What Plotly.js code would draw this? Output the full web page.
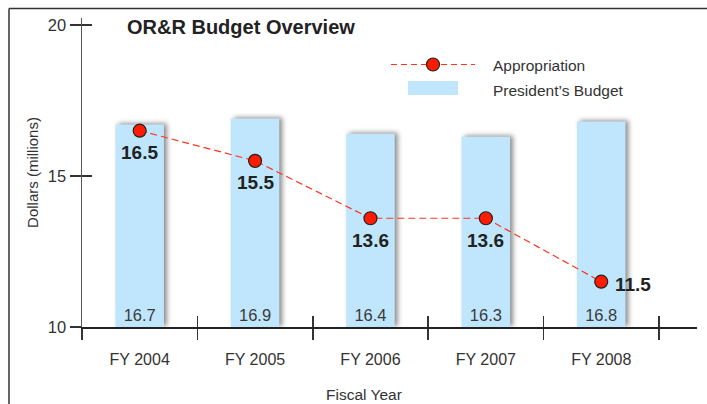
<!DOCTYPE html>
<html>
<head>
<meta charset="utf-8">
<script src="https://cdn.plot.ly/plotly-3.0.1.min.js"></script>
<style>
  html, body { margin: 0; padding: 0; background: #fff; }
  #chart { width: 707px; height: 404px; }
  .barlayer .trace .point path { filter: drop-shadow(3px -1px 2.5px rgba(0,0,0,0.45)); }
</style>
</head>
<body>
<div id="chart"></div>
<script>
// ---- data ----
const fiscalYears = ["FY 2004", "FY 2005", "FY 2006", "FY 2007", "FY 2008"];
const presidentsBudget = [16.7, 16.9, 16.4, 16.3, 16.8];
const appropriation = [16.5, 15.5, 13.6, 13.6, 11.5];
const yTickValues = [10, 15, 20];
const yTickLabels = ["10", "15", "20"];

// ---- geometry helpers (decorations only) ----
const W = 707, H = 404;
const M = { l: 82, r: 10, t: 18, b: 77 };
const PW = W - M.l - M.r, PH = H - M.t - M.b;
const xp = px => (px - M.l) / PW;
const yp = py => (H - M.b - py) / PH;

const FONT = "Liberation Sans, Arial, sans-serif";
const TXT = "#333333";

const barTrace = {
  type: "bar",
  name: "President's Budget",
  x: fiscalYears,
  y: presidentsBudget.map(v => v - 10),
  base: 10,
  width: 0.42,
  marker: { color: "#BFE6FC", line: { width: 0 } },
  text: presidentsBudget.map(v => v.toFixed(1)),
  textposition: "inside",
  insidetextanchor: "start",
  textangle: 0,
  constraintext: "none",
  textfont: { family: FONT, size: 16.5, color: "#3a3a3a" },
  hoverinfo: "skip",
  showlegend: false
};

const lineTrace = {
  type: "scatter",
  name: "Appropriation",
  mode: "lines+markers",
  x: fiscalYears,
  y: appropriation,
  line: { color: "#FF3322", width: 1.2, dash: "7px,4px" },
  marker: { color: "#FF1A00", size: 13, line: { color: "#222222", width: 1.2 } },
  cliponaxis: false,
  hoverinfo: "skip",
  showlegend: false
};

// helper trace so the overlay axes (crossing tick halves) get drawn
const tickHelper = {
  type: "scatter", mode: "markers", x: [null], y: [null],
  xaxis: "x2", yaxis: "y2", hoverinfo: "skip", showlegend: false
};

const dark = "#333333";
const shapes = [
  // frame (top and left)
  { type: "line", xref: "paper", yref: "paper", x0: xp(9), x1: xp(707), y0: yp(8.5), y1: yp(8.5), line: { color: dark, width: 1.5 } },
  { type: "line", xref: "paper", yref: "paper", x0: xp(9), x1: xp(9), y0: yp(8.5), y1: yp(404), line: { color: dark, width: 1.5 } },
  // legend symbols
  { type: "line", xref: "paper", yref: "paper", x0: xp(391), x1: xp(475), y0: yp(64.5), y1: yp(64.5), line: { color: "#FF3322", width: 1.2, dash: "6px,4px" } },
  { type: "circle", xref: "paper", yref: "paper", x0: xp(426.5), x1: xp(439.5), y0: yp(58), y1: yp(71), fillcolor: "#FF1A00", line: { color: "#222222", width: 1.2 } },
  { type: "rect", xref: "paper", yref: "paper", x0: xp(408), x1: xp(458), y0: yp(81), y1: yp(95), fillcolor: "#BFE6FC", line: { width: 0 } }
];

// value labels for the appropriation points, placed through the data scales
const lastIdx = appropriation.length - 1;
const valueLabels = appropriation.map((v, i) => ({
  x: fiscalYears[i], y: v, xref: "x", yref: "y",
  text: "<b>" + v.toFixed(1) + "</b>",
  showarrow: false,
  xanchor: i === lastIdx ? "left" : "center",
  yanchor: "middle",
  xshift: i === lastIdx ? 12 : 0,
  yshift: i === lastIdx ? -3 : -22,
  font: { family: FONT, size: 19, color: "#222222" }
}));

const annotations = valueLabels.concat([
  { xref: "paper", yref: "paper", x: xp(491), y: yp(65), xanchor: "left", yanchor: "middle", showarrow: false,
    text: "Appropriation", font: { family: FONT, size: 15.5, color: TXT } },
  { xref: "paper", yref: "paper", x: xp(491), y: yp(91), xanchor: "left", yanchor: "middle", showarrow: false,
    text: "President\u2019s Budget", font: { family: FONT, size: 15.5, color: TXT } },
  { xref: "paper", yref: "paper", x: xp(364), y: yp(394), xanchor: "center", yanchor: "middle", showarrow: false,
    text: "Fiscal Year", font: { family: FONT, size: 15.5, color: TXT } }
]);

const layout = {
  width: W, height: H,
  margin: M,
  paper_bgcolor: "#ffffff",
  plot_bgcolor: "rgba(0,0,0,0)",
  showlegend: false,
  font: { family: FONT, color: TXT },
  title: {
    text: "<b>OR&amp;R Budget Overview</b>",
    x: 127 / W, xanchor: "left", xref: "container",
    y: 1 - 27 / H, yanchor: "middle", yref: "container",
    font: { family: FONT, size: 20, color: "#222222" }
  },
  xaxis: {
    type: "category",
    categoryorder: "array", categoryarray: fiscalYears,
    range: [-0.5, 4.83],
    showline: true, linecolor: "#222222", linewidth: 1.5,
    ticks: "outside", ticklen: 11, tickwidth: 1.5, tickcolor: "#333333",
    tickson: "boundaries",
    showgrid: false, zeroline: false,
    tickfont: { family: FONT, size: 16, color: TXT },
    ticklabelstandoff: 17,
    fixedrange: true
  },
  xaxis2: {
    overlaying: "x", anchor: "y", type: "linear",
    range: [-0.5, 4.83],
    tickmode: "array", tickvals: [0.5, 1.5, 2.5, 3.5, 4.5],
    ticks: "inside", ticklen: 11, tickwidth: 1.5, tickcolor: "#333333",
    showticklabels: false, showline: false, showgrid: false, zeroline: false,
    fixedrange: true
  },
  yaxis: {
    range: [10, 20.23],
    tickmode: "array", tickvals: yTickValues, ticktext: yTickLabels,
    showline: true, linecolor: "#555555", linewidth: 1.5,
    ticks: "outside", ticklen: 11, tickwidth: 1.5, tickcolor: "#333333",
    showgrid: false, zeroline: false,
    tickfont: { family: FONT, size: 16.5, color: TXT },
    title: { text: "Dollars (millions)", font: { family: FONT, size: 15, color: TXT }, standoff: 5 },
    fixedrange: true
  },
  yaxis2: {
    overlaying: "y", anchor: "x", side: "left",
    range: [10, 20.23],
    tickmode: "array", tickvals: yTickValues,
    ticks: "inside", ticklen: 10, tickwidth: 1.5, tickcolor: "#333333",
    showticklabels: false, showline: false, showgrid: false, zeroline: false,
    fixedrange: true
  },
  shapes: shapes,
  annotations: annotations
};

Plotly.newPlot("chart", [barTrace, lineTrace, tickHelper], layout, { displayModeBar: false, staticPlot: true });
</script>
</body>
</html>
